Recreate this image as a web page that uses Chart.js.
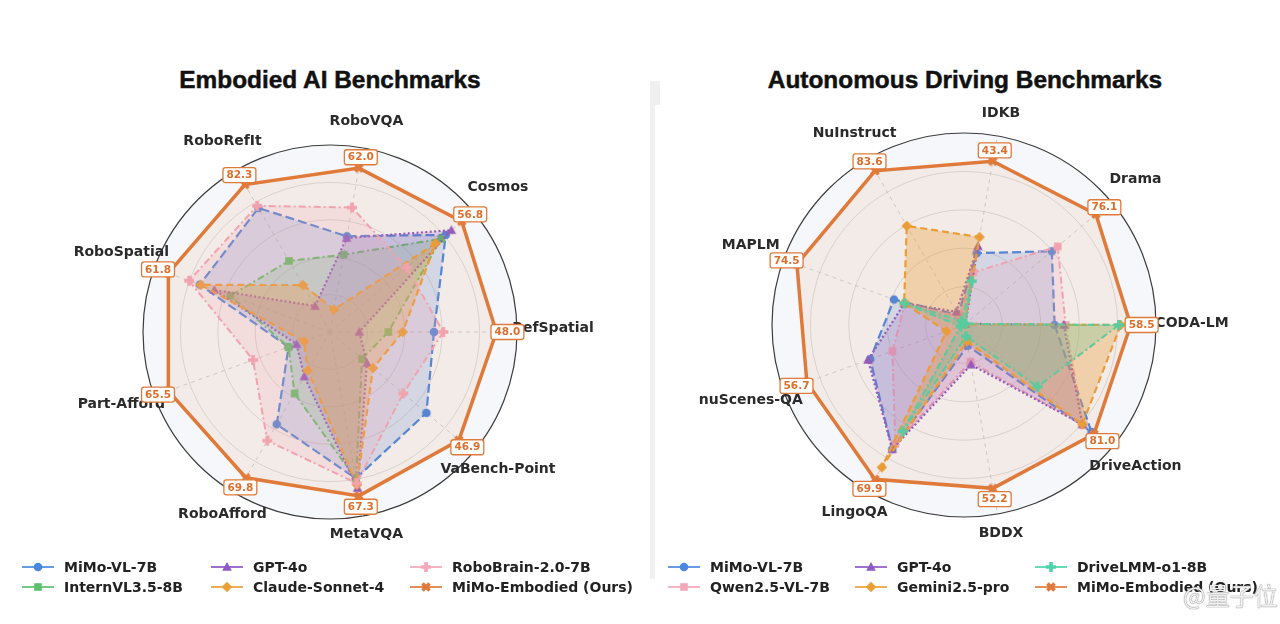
<!DOCTYPE html>
<html>
<head>
<meta charset="utf-8">
<script src="https://cdn.jsdelivr.net/npm/chart.js@4.4.1/dist/chart.umd.min.js"></script>
<style>
html,body{margin:0;padding:0;background:#fff;}
body{width:1280px;height:624px;position:relative;overflow:hidden;font-family:'DejaVu Sans',sans-serif;}
.title{position:absolute;top:66px;font-family:'Liberation Sans',Arial,sans-serif;font-weight:bold;font-size:24.4px;line-height:28px;color:#111;white-space:nowrap;transform:translateX(-50%);-webkit-text-stroke:0.5px #111;}
canvas.chart{position:absolute;top:0;}
.legend{position:absolute;top:557px;display:grid;grid-auto-flow:column;grid-template-rows:20px 20px;}
.item{display:flex;align-items:center;height:20px;font-weight:bold;font-size:14px;color:#222;white-space:nowrap;}
.item canvas{width:32px;height:14px;margin-right:10px;display:block;}
.divider{position:absolute;background:#f0f0f0;}
.wm{position:absolute;left:1183px;top:577px;font-family:'Noto Sans CJK SC',sans-serif;font-size:24px;color:rgba(255,255,255,0.9);text-shadow:0 0 1px #777,0 0 1px #777;white-space:nowrap;}
</style>
</head>
<body>
<div class="title" style="left:330px">Embodied AI Benchmarks</div>
<div class="title" style="left:965px">Autonomous Driving Benchmarks</div>
<div class="divider" style="left:650px;top:81px;width:10px;height:24px;"></div>
<div class="divider" style="left:650px;top:81px;width:5px;height:498px;"></div>
<canvas class="chart" id="left" width="650" height="545" style="left:0;width:650px;height:545px"></canvas>
<canvas class="chart" id="right" width="630" height="545" style="left:650px;width:630px;height:545px"></canvas>
<div class="legend" id="legL" style="left:22px;grid-template-columns:189px 199px auto;"></div>
<div class="legend" id="legR" style="left:668px;grid-template-columns:187px 180px auto;"></div>
<div class="wm">@量子位</div>
<script>
// ---------------- DATA ----------------
// Axis order is clockwise starting from the right-hand (3 o'clock) axis.
const embodiedLabels = ['RefSpatial','VaBench-Point','MetaVQA','RoboAfford','Part-Afford','RoboSpatial','RoboRefIt','RoboVQA','Cosmos'];
// MiMo-Embodied raw benchmark scores (shown in the boxes)
const embodiedScores = [48.0, 46.9, 67.3, 69.8, 65.5, 61.8, 82.3, 62.0, 56.8];
// Normalized radar positions (0-100)
const embMiMoVL     = [55.6, 67.3, 79.5, 57.0, 23.6, 74.1, 76.6, 52.0, 80.8];
const embInternVL   = [31.2, 22.4, 80.0, 37.9, 23.6, 56.7, 43.9, 42.0, 77.5];
const embGPT4o      = [15.7, 25.8, 84.8, 27.5, 19.0, 65.8, 16.0, 51.0, 84.7];
const embClaude     = [38.9, 30.0, 83.0, 23.8, 14.7, 73.6, 29.0, 12.2, 73.7];
const embRoboBrain  = [60.6, 51.1, 82.1, 67.1, 43.8, 80.2, 77.9, 67.6, 53.6];
const embMiMoEmb    = [89.0, 90.0, 89.0, 90.0, 92.0, 92.0, 91.0, 89.0, 92.0];

const drivingLabels = ['CODA-LM','DriveAction','BDDX','LingoQA','nuScenes-QA','MAPLM','NuInstruct','IDKB','Drama'];
const drivingScores = [58.5, 81.0, 52.2, 69.9, 56.7, 74.5, 83.6, 43.4, 76.1];
const drvMiMoVL   = [47.2, 86.7, 11.0, 74.7, 52.0, 38.8, 6.0, 38.0, 59.7];
const drvQwen     = [53.0, 81.1, 19.5, 71.5, 39.7, 32.6, 5.0, 27.8, 63.7];
const drvGPT4o    = [52.0, 80.5, 21.0, 74.7, 53.2, 33.0, 8.0, 41.7, 1.0];
const drvGemini   = [81.6, 80.5, 8.7, 85.6, 9.7, 33.2, 59.6, 46.5, 0.5];
const drvDriveLMM = [80.7, 50.0, 6.0, 63.9, 2.0, 33.0, 2.5, 23.2, 1.0];
const drvMiMoEmb  = [86.8, 88.4, 86.4, 92.8, 87.1, 92.6, 92.7, 86.6, 89.7];

// ---------------- STYLE ----------------
const C = {
  blue:'#4A88E0', green:'#5CC16D', purple:'#8E58C6', amber:'#EBA037',
  pink:'#F4A7B9', orange:'#E07A3A', teal:'#4CD3A8'
};
function rgba(hex,a){const n=parseInt(hex.slice(1),16);return `rgba(${n>>16},${(n>>8)&255},${n&255},${a})`;}

function makeMarker(shape,color){
  const cv=document.createElement('canvas');cv.width=12;cv.height=12;
  const g=cv.getContext('2d');g.fillStyle=color;g.translate(6,6);g.beginPath();
  if(shape==='circle'){g.arc(0,0,4.3,0,Math.PI*2);}
  else if(shape==='square'){g.rect(-3.8,-3.8,7.6,7.6);}
  else if(shape==='triangle'){g.moveTo(0,-5);g.lineTo(4.8,3.8);g.lineTo(-4.8,3.8);g.closePath();}
  else if(shape==='diamond'){g.moveTo(0,-5.3);g.lineTo(5.3,0);g.lineTo(0,5.3);g.lineTo(-5.3,0);g.closePath();}
  else if(shape==='plus'||shape==='x'){
    if(shape==='x')g.rotate(Math.PI/4);
    const a=5,t=1.8;
    g.moveTo(-t,-a);g.lineTo(t,-a);g.lineTo(t,-t);g.lineTo(a,-t);g.lineTo(a,t);g.lineTo(t,t);g.lineTo(t,a);
    g.lineTo(-t,a);g.lineTo(-t,t);g.lineTo(-a,t);g.lineTo(-a,-t);g.lineTo(-t,-t);g.closePath();
  }
  g.fill();return cv;
}

function ds(label,data,color,shape,dash,fillA,width,order){
  const m=makeMarker(shape,color);
  return {label,data,borderColor:color,backgroundColor:rgba(color,fillA),borderWidth:width,
    borderDash:dash,fill:true,pointStyle:m,pointRadius:5,pointHoverRadius:5,
    pointBackgroundColor:color,pointBorderColor:color,order,_marker:m};
}

function labelPlugin(labels,scores,base,k,shift){
  return {id:'axisText',afterDatasetsDraw(chart){
    const s=chart.scales.r,ctx=chart.ctx,R=s.drawingArea;
    ctx.save();
    ctx.font='bold 14px "DejaVu Sans"';ctx.fillStyle='#2a2a2a';ctx.textAlign='center';ctx.textBaseline='middle';
    labels.forEach((lab,i)=>{
      const p=s.getPointPosition(i,R);
      const d=R+base+k*Math.abs(Math.cos(p.angle));
      ctx.fillText(lab,s.xCenter+Math.cos(p.angle)*d,s.yCenter+Math.sin(p.angle)*d+shift);
    });
    const top=chart.data.datasets[chart.data.datasets.length-1];
    ctx.font='bold 10.5px "DejaVu Sans"';
    scores.forEach((v,i)=>{
      const p=s.getPointPosition(i,s.getDistanceFromCenterForValue(top.data[i])+11);
      const t=v.toFixed(1),w=ctx.measureText(t).width+7,h=15;
      ctx.beginPath();ctx.roundRect(p.x-w/2,p.y-h/2,w,h,2.5);
      ctx.fillStyle='#fff';ctx.fill();ctx.lineWidth=1.3;ctx.strokeStyle=C.orange;ctx.stroke();
      ctx.fillStyle='#DD6E2C';ctx.fillText(t,p.x,p.y+0.5);
    });
    ctx.restore();
  }};
}

function radarOptions(pad){
  return {responsive:false,animation:false,layout:{padding:pad},
    plugins:{legend:{display:false},tooltip:{enabled:false}},
    elements:{line:{tension:0}},
    scales:{r:{min:0,max:100,startAngle:90,backgroundColor:'#F5F7FA',
      ticks:{display:false,stepSize:20},
      pointLabels:{display:false},
      grid:{circular:true,color:c=>c.index===5?'#3c3c3c':'#d8d6d6',lineWidth:c=>c.index===5?1.2:0.9},
      angleLines:{color:'#cfcaca',lineWidth:0.9,borderDash:[4,4]}}}};
}

// lower "order" is drawn later (on top): later series sit above earlier ones
const leftChart=new Chart(document.getElementById('left'),{type:'radar',
  data:{labels:embodiedLabels,datasets:[
    ds('MiMo-VL-7B',embMiMoVL,C.blue,'circle',[9,4],0.2,2.2,4),
    ds('InternVL3.5-8B',embInternVL,C.green,'square',[7,3,2,3],0.2,2,3),
    ds('GPT-4o',embGPT4o,C.purple,'triangle',[2,2.4],0.2,2.2,2),
    ds('Claude-Sonnet-4',embClaude,C.amber,'diamond',[7,4],0.32,2.2,1),
    ds('RoboBrain-2.0-7B',embRoboBrain,C.pink,'plus',[7,3,2,3],0.2,2,0),
    ds('MiMo-Embodied (Ours)',embMiMoEmb,C.orange,'x',[],0.09,3.5,-1)
  ]},
  options:radarOptions({left:143,top:145,right:133,bottom:26}),
  plugins:[labelPlugin(embodiedLabels,embodiedScores,20,16,-4)]});

const rightChart=new Chart(document.getElementById('right'),{type:'radar',
  data:{labels:drivingLabels,datasets:[
    ds('MiMo-VL-7B',drvMiMoVL,C.blue,'circle',[9,4],0.2,2.2,4),
    ds('Qwen2.5-VL-7B',drvQwen,C.pink,'square',[7,3,2,3],0.2,2,3),
    ds('GPT-4o',drvGPT4o,C.purple,'triangle',[2,2.4],0.2,2.2,2),
    ds('Gemini2.5-pro',drvGemini,C.amber,'diamond',[7,4],0.35,2.2,1),
    ds('DriveLMM-o1-8B',drvDriveLMM,C.teal,'plus',[7,3,2,3],0.25,2,0),
    ds('MiMo-Embodied (Ours)',drvMiMoEmb,C.orange,'x',[],0.09,3.5,-1)
  ]},
  options:radarOptions({left:122,top:133,right:124,bottom:28}),
  plugins:[labelPlugin(drivingLabels,drivingScores,18,18,-2)]});

function buildLegend(chart,id){
  const box=document.getElementById(id);
  chart.data.datasets.forEach(d=>{
    const it=document.createElement('div');it.className='item';
    const cv=document.createElement('canvas');cv.width=32;cv.height=14;
    const g=cv.getContext('2d');g.strokeStyle=d.borderColor;g.globalAlpha=0.85;g.lineWidth=2;
    g.beginPath();g.moveTo(0,7);g.lineTo(32,7);g.stroke();g.globalAlpha=1;
    g.drawImage(d._marker,10,1);
    const sp=document.createElement('span');sp.textContent=d.label;
    it.appendChild(cv);it.appendChild(sp);box.appendChild(it);
  });
}
buildLegend(leftChart,'legL');
buildLegend(rightChart,'legR');
</script>
</body>
</html>
